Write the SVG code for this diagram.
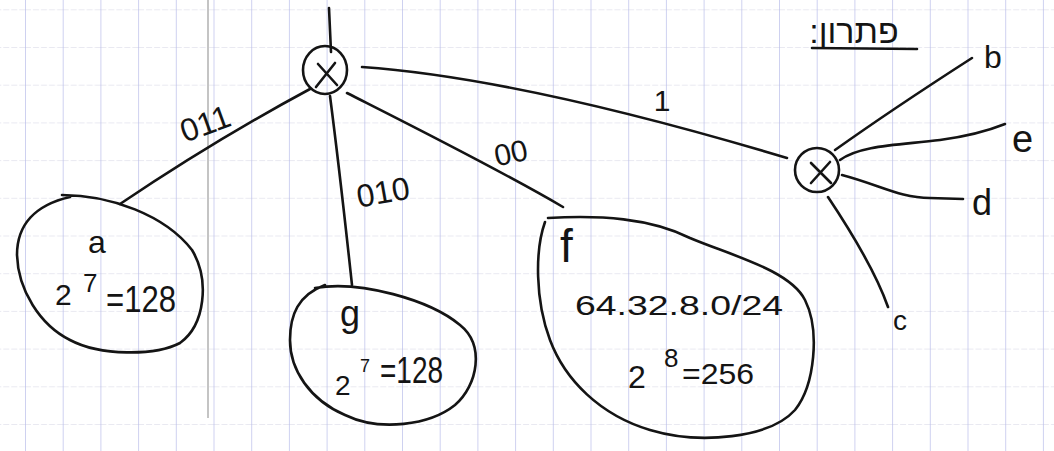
<svg xmlns="http://www.w3.org/2000/svg" width="1054" height="451" viewBox="0 0 1054 451">
<defs>
<pattern id="grid" patternUnits="userSpaceOnUse" x="25" y="9.3" width="37.7" height="37.7">
<line x1="0" y1="0" x2="37.7" y2="0" stroke="#d3d3e4" stroke-width="1.2" stroke-dasharray="6 2"/>
<line x1="0" y1="0" x2="0" y2="37.7" stroke="#b9bdea" stroke-width="1.4"/>
</pattern>
<style>
.ink{fill:none;stroke:#141414;stroke-width:2.6;stroke-linecap:round;stroke-linejoin:round}
.t{font-family:"Liberation Sans","DejaVu Sans",sans-serif;fill:#141414}
</style>
</defs>
<rect width="1054" height="451" fill="#ffffff"/>
<rect width="1054" height="451" fill="url(#grid)"/>
<line x1="208" y1="0" x2="208" y2="418" stroke="#c4c4c4" stroke-width="2"/>

<g id="connectors">
<path class="ink" d="M 329,8 L 331,52"/>
<path class="ink" d="M 310,89 Q 215,140 120,204"/>
<path class="ink" d="M 330,96 C 337,150 345,220 352,285"/>
<path class="ink" d="M 347,93 C 420,130 500,170 563,207"/>
<path class="ink" d="M 362,67 Q 520,78 787,158"/>
<path class="ink" d="M 835,150 C 880,118 930,85 972,58"/>
<path class="ink" d="M 840,160 C 860,145 900,145 940,140 C 970,136 990,130 1005,124"/>
<path class="ink" d="M 842,175 C 880,185 900,198 930,198 L 963,199"/>
<path class="ink" d="M 828,197 C 850,230 875,270 888,307"/>
<text class="t" font-size="32" text-anchor="middle" transform="translate(209,134) rotate(-20)">011</text>
<text class="t" font-size="32" text-anchor="middle" transform="translate(385,203) rotate(-10)">010</text>
<text class="t" font-size="30" text-anchor="middle" transform="translate(513,163) rotate(-12)">00</text>
<text class="t" font-size="30" text-anchor="middle" x="662" y="111">1</text>
</g>

<g id="switch1">
<ellipse class="ink" cx="325" cy="70" rx="22" ry="24"/>
<path class="ink" d="M 318,64 L 337,85 M 335,63 L 316,87"/>
</g>

<g id="switch2">
<circle class="ink" cx="817" cy="170" r="22"/>
<path class="ink" d="M 811,163 L 831,183 M 830,162 L 811,183"/>
</g>

<g id="node-a">
<path class="ink" d="M 62,195 C 110,195 165,215 192,250 C 210,280 205,325 180,343 C 155,356 100,356 70,340 C 40,325 18,290 17,255 C 17,225 35,205 70,197"/>
<text class="t" font-size="32" x="88" y="253">a</text>
<text class="t" font-size="30" x="55" y="305">2</text>
<text class="t" font-size="26" x="83" y="292">7</text>
<text class="t" font-size="36" x="106" y="312" textLength="70" lengthAdjust="spacingAndGlyphs">=128</text>
</g>

<g id="node-g">
<path class="ink" d="M 315,288 C 360,280 430,300 460,325 C 485,345 478,385 455,405 C 430,425 380,432 345,415 C 310,400 290,370 290,340 C 290,315 298,295 325,285"/>
<text class="t" font-size="36" x="340" y="326">g</text>
<text class="t" font-size="28" x="335" y="395">2</text>
<text class="t" font-size="18" x="360" y="372">7</text>
<text class="t" font-size="36" x="380" y="383" textLength="63" lengthAdjust="spacingAndGlyphs">=128</text>
</g>

<g id="node-f">
<path class="ink" d="M 548,218 C 600,215 650,218 690,238 C 730,255 790,270 805,300 C 820,330 815,385 795,410 C 770,438 700,445 650,430 C 600,415 565,380 550,340 C 535,300 535,250 545,222"/>
<text class="t" font-size="46" x="560" y="262">f</text>
<text class="t" font-size="28" x="575" y="315" textLength="208" lengthAdjust="spacingAndGlyphs">64.32.8.0/24</text>
<text class="t" font-size="32" x="628" y="388">2</text>
<text class="t" font-size="26" x="664" y="367">8</text>
<text class="t" font-size="30" x="682" y="384" textLength="72" lengthAdjust="spacingAndGlyphs">=256</text>
</g>

<g id="leaf-b"><text class="t" font-size="32" x="984" y="68">b</text></g>
<g id="leaf-e"><text class="t" font-size="38" x="1012" y="152">e</text></g>
<g id="leaf-d"><text class="t" font-size="36" x="972" y="215">d</text></g>
<g id="leaf-c"><text class="t" font-size="28" x="893" y="330">c</text></g>

<g id="title">
<text class="t" font-size="34" x="854" y="43" text-anchor="middle" direction="rtl" font-family="'Noto Sans','DejaVu Sans',sans-serif">פתרון:</text>
<path class="ink" d="M 812,48 L 917,49"/>
</g>
</svg>
